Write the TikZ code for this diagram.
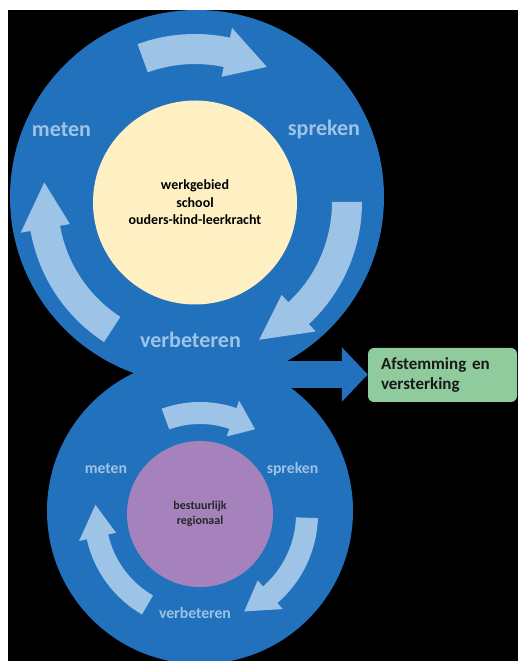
\documentclass[tikz,border=0pt]{standalone}
\usepackage{fontspec}
\setmainfont{Carlito}
\usetikzlibrary{arrows.meta,calc}
\definecolor{bgblue}{HTML}{2171BD}
\definecolor{lightarr}{HTML}{9DC3E6}
\definecolor{yellowc}{HTML}{FFF0C4}
\definecolor{purplec}{HTML}{A682BC}
\definecolor{greenc}{HTML}{8FCB9C}
% #1,#2 centre, #3 mid radius, #4 half body width, #5 half head width,
% #6 tail angle, #7 head base angle, #8 tip angle
\newcommand{\ringarrow}[8]{%
  \pgfmathsetmacro\raOut{#3+#4}%
  \pgfmathsetmacro\raIn{#3-#4}%
  \pgfmathsetmacro\raHo{#3+#5}%
  \pgfmathsetmacro\raHi{#3-#5}%
  \fill[cyclearrow, shift={(#1,#2)}] (#6:\raOut) arc[start angle=#6,end angle=#7,radius=\raOut]
    -- (#7:\raHo) -- (#8:#3) -- (#7:\raHi) -- (#7:\raIn)
    arc[start angle=#7,end angle=#6,radius=\raIn] -- cycle;
}
\tikzset{
  cyclearrow/.style={fill=lightarr},
  disc/.style={circle, inner sep=0pt, align=center},
  steplabel/.style={text=lightarr, font=\bfseries\fontsize{22}{26}\selectfont, inner sep=0pt},
  smalllabel/.style={text=lightarr, font=\bfseries\fontsize{15.7}{18}\selectfont, inner sep=0pt},
}
\begin{document}
\begin{tikzpicture}[x=1pt,y=1pt]
\useasboundingbox (0,0) rectangle (518,661);
\fill[white] (0,0) rectangle (518,661);
\fill[black] (8,0) rectangle (518,651);
\begin{scope}
\clip (8,0) rectangle (518,651);
\node[disc, fill=bgblue, minimum size=374pt] (bigdisc) at (197,464) {};
\node[disc, fill=bgblue, minimum size=306pt] (smalldisc) at (200,150) {};
\end{scope}
% connector to the green box
\node[fill=greenc, rounded corners=6pt, minimum width=149pt, minimum height=54pt,
      text width=123pt, align=left, inner xsep=13pt, inner ysep=0pt,
      font=\bfseries\fontsize{17}{20}\selectfont, text=black!90] (tuning) at (442.5,286) {Afstemming en\\versterking};
\coordinate (neckR) at (255,286.5);
\draw[bgblue, line width=27pt, -{Triangle[width=53pt,length=26pt]}] (neckR) -- (neckR -| tuning.west);
% inner discs
\node[disc, fill=yellowc, minimum size=204pt, font=\bfseries\fontsize{14}{17.5}\selectfont] (work) at (195,458.5)
  {werkgebied\\school\\ouders-kind-leerkracht};
\node[disc, fill=purplec, minimum size=146pt, font=\bfseries\fontsize{12}{15}\selectfont, text=black!85] (admin) at (200,147)
  {bestuurlijk\\regionaal};
% big cycle arrows
\ringarrow{195}{459}{153}{15}{25}{110}{78}{62}
\ringarrow{195}{459}{152}{15}{25}{0}{-47}{-65}
\ringarrow{195}{459}{152}{15}{25}{237}{190}{172.6}
% small cycle arrows
\ringarrow{200}{147}{101}{11}{19}{110}{71}{57}
\ringarrow{200}{147}{107}{11}{19}{-2}{-49}{-65.6}
\ringarrow{200}{147}{105}{11}{19}{240}{192.6}{175}
% labels
\node[steplabel] (m1) at (61.5,531) {meten};
\node[steplabel] (s1) at (324,531) {spreken};
\node[steplabel] (v1) at (190.5,321) {verbeteren};
\node[smalllabel] (m2) at (106,192) {meten};
\node[smalllabel] (s2) at (292.5,192) {spreken};
\node[smalllabel] (v2) at (195,48) {verbeteren};
\end{tikzpicture}
\end{document}
